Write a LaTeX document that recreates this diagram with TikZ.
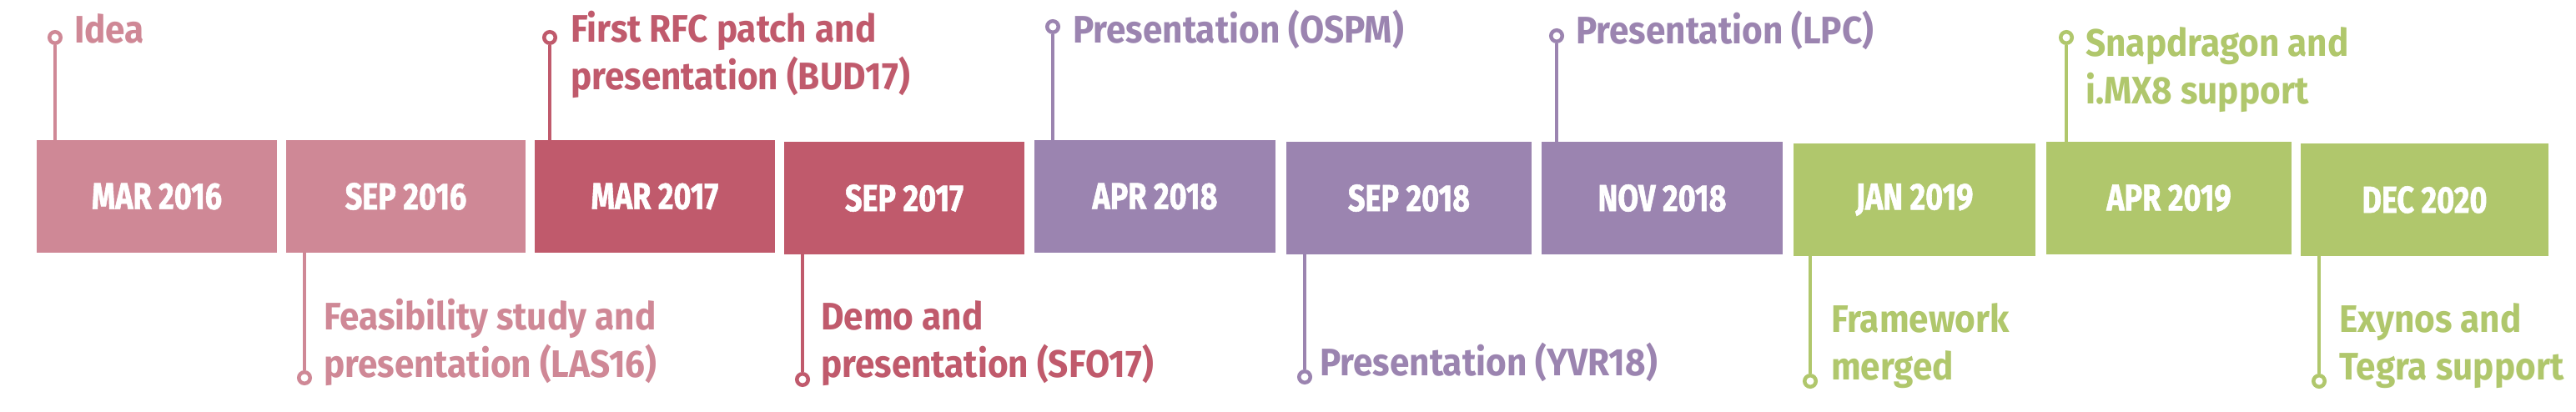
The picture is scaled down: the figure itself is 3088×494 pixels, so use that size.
\documentclass[tikz,border=0pt]{standalone}
\usepackage{fontspec}
\setmainfont{Fira Sans}
\newfontfamily\labfont{Fira Sans}[FakeStretch=0.92]
\newfontfamily\datefont{Fira Sans}[FakeStretch=0.8,BoldFeatures={FakeBold=1.2}]
\definecolor{cpink}{HTML}{CF8896}
\definecolor{cred}{HTML}{C05A6C}
\definecolor{cpurple}{HTML}{9B84B0}
\definecolor{cgreen}{HTML}{B0C76C}
\begin{document}
\begin{tikzpicture}[x=1pt,y=-1pt,
  datebox/.style={fill=#1, text=white, minimum height=135pt, inner sep=0pt,
    font=\datefont\bfseries\fontsize{45}{45}\selectfont},
  pin/.style={circle, draw=#1, line width=4.5pt, fill=white, minimum size=13.5pt, inner sep=0pt},
  stem/.style={draw=#1, line width=4.5pt},
  lab/.style={text=#1, inner sep=0pt, align=left, anchor=base west,
    font=\labfont\bfseries\fontsize{46}{57}\selectfont}
]
\useasboundingbox (0,0) rectangle (3088,494);
\fill[white] (0,0) rectangle (3088,494);

% date boxes
\node[datebox=cpink,   minimum width=288pt] (m1)  at (188,235.5)  {MAR 2016};
\node[datebox=cpink,   minimum width=287pt] (m2)  at (486.5,235.5) {SEP 2016};
\node[datebox=cred,    minimum width=288pt] (m3)  at (785,235.5)  {MAR 2017};
\node[datebox=cred,    minimum width=288pt] (m4)  at (1084,237.5) {SEP 2017};
\node[datebox=cpurple, minimum width=289pt] (m5)  at (1384.5,235.5) {APR 2018};
\node[datebox=cpurple, minimum width=294pt] (m6)  at (1689,237.5) {SEP 2018};
\node[datebox=cpurple, minimum width=289pt] (m7)  at (1992.5,237.5) {NOV 2018};
\node[datebox=cgreen,  minimum width=290pt] (m8)  at (2295,239.5) {JAN 2019};
\node[datebox=cgreen,  minimum width=294pt] (m9)  at (2600,237.5) {APR 2019};
\node[datebox=cgreen,  minimum width=297pt] (m10) at (2906.5,239.5) {DEC 2020};

% pins
\node[pin=cpink]   (c1)  at (66,45)   {};
\node[pin=cpink]   (c2)  at (365,453) {};
\node[pin=cred]    (c3)  at (659,45)  {};
\node[pin=cred]    (c4)  at (962,455) {};
\node[pin=cpurple] (c5)  at (1262,32) {};
\node[pin=cpurple] (c6)  at (1564,452) {};
\node[pin=cpurple] (c7)  at (1866,43) {};
\node[pin=cgreen]  (c8)  at (2170,457) {};
\node[pin=cgreen]  (c9)  at (2477,45) {};
\node[pin=cgreen]  (c10) at (2780,457) {};

% stems
\draw[stem=cpink]   (c1.south)  -- (c1.south |- m1.north);
\draw[stem=cpink]   (c2.north)  -- (c2.north |- m2.south);
\draw[stem=cred]    (c3.south)  -- (c3.south |- m3.north);
\draw[stem=cred]    (c4.north)  -- (c4.north |- m4.south);
\draw[stem=cpurple] (c5.south)  -- (c5.south |- m5.north);
\draw[stem=cpurple] (c6.north)  -- (c6.north |- m6.south);
\draw[stem=cpurple] (c7.south)  -- (c7.south |- m7.north);
\draw[stem=cgreen]  (c8.north)  -- (c8.north |- m8.south);
\draw[stem=cgreen]  (c9.south)  -- (c9.south |- m9.north);
\draw[stem=cgreen]  (c10.north) -- (c10.north |- m10.south);

% labels (anchored at the baseline of the last line)
\node[lab=cpink]   (t1)  at (89,52)    {Idea};
\node[lab=cpink]   (t2)  at (388,452)  {Feasibility study and\\presentation (LAS16)};
\node[lab=cred]    (t3)  at (684,108)  {First RFC patch and\\presentation (BUD17)};
\node[lab=cred]    (t4)  at (984,452)  {Demo and\\presentation (SFO17)};
\node[lab=cpurple] (t5)  at (1286,52)  {Presentation (OSPM)};
\node[lab=cpurple] (t6)  at (1582,450) {Presentation (YVR18)};
\node[lab=cpurple] (t7)  at (1889,53)  {Presentation (LPC)};
\node[lab=cgreen]  (t8)  at (2195,455) {Framework\\merged};
\node[lab=cgreen]  (t9)  at (2500,125) {Snapdragon and\\i.MX8 support};
\node[lab=cgreen]  (t10) at (2804,455) {Exynos and\\Tegra support};
\end{tikzpicture}
\end{document}
